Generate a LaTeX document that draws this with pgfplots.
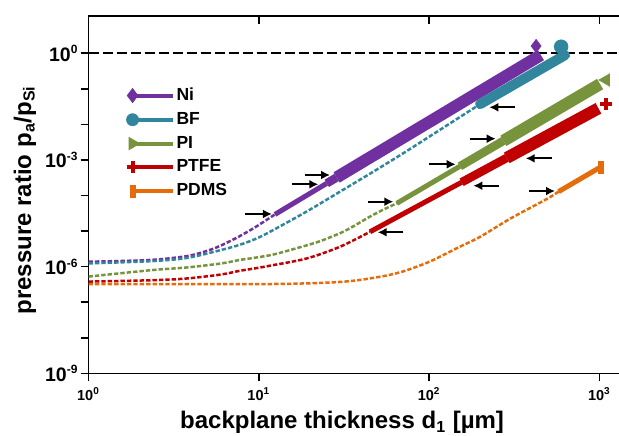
\documentclass[border=0pt]{standalone}
\usepackage{fontspec}
\setmainfont{Liberation Sans}
\usepackage{pgfplots}
\pgfplotsset{compat=1.18}
\usetikzlibrary{arrows.meta}

\definecolor{niC}{RGB}{112,48,160}
\definecolor{bfC}{RGB}{49,133,156}
\definecolor{piC}{RGB}{119,147,60}
\definecolor{ptC}{RGB}{192,0,0}
\definecolor{pdC}{RGB}{228,108,10}

% tick label helpers: big y labels, small x labels
\newcommand{\ytl}[1]{10\textsuperscript{\fontsize{6}{6}\selectfont#1}}
\newcommand{\xtl}[1]{10\textsuperscript{\fontsize{5}{5}\selectfont#1}}

\pgfplotsset{
  dsh/.style={line width=1.25pt, dash pattern=on 2.2pt off 1pt, smooth},
  arr/.style={black, line width=1pt, -{Latex[length=4.5pt,width=4.5pt]}},
  w1/.style={line width=2.5pt},
  w2/.style={line width=4.25pt},
  w3/.style={line width=6pt},
}

\begin{document}
\begin{tikzpicture}
\begin{axis}[
  name=main,
  scale only axis, width=265.25pt, height=178.65pt,
  xmode=log, ymode=log,
  xmin=1, xmax=1303, ymin=1e-9, ymax=11.19,
  major tick length=4pt, xminorticks=false, yminorticks=false,
  axis line style={line width=0.8pt, -}, tick style={line width=0.8pt, black},
  axis x line*=bottom, axis y line*=left,
  tick align=outside,
  xtick={1,10,100,1000},
  xticklabels={\xtl{0},\xtl{1},\xtl{2},\xtl{3}},
  ytick={1e-9,1e-8,1e-7,1e-6,1e-5,1e-4,1e-3,1e-2,1e-1,1},
  yticklabels={\ytl{-9},,,\ytl{-6},,,\ytl{-3},,,\ytl{0}},
  xticklabel style={font=\bfseries\fontsize{7.25}{8}\selectfont, yshift=0.5pt},
  yticklabel style={font=\bfseries\fontsize{9.75}{11}\selectfont, xshift=2.5pt},
  xlabel={backplane thickness d\textsubscript{1} [µm]},
  ylabel={pressure ratio p\textsubscript{a}/p\textsubscript{Si}},
  label style={font=\bfseries\fontsize{12}{14}\selectfont},
  xlabel style={at={(axis description cs:0.478,-0.137)}, anchor=center},
  ylabel style={at={(axis description cs:-0.12,0.485)}, anchor=center},
  legend image code/.code={
    \draw[#1, mark indices={1}] plot coordinates {(0pt,0pt) (20pt,0pt)};
  },
  legend style={at={(axis description cs:0.071,0.806)}, anchor=north west,
    draw=none, fill=none, inner sep=0pt, row sep=2.4pt,
    font=\bfseries\fontsize{8.75}{10}\selectfont,
    nodes={inner sep=1pt}},
  legend cell align=left,
]
\addlegendimage{niC, line width=2pt, mark=diamond*, mark size=3.5pt, mark options={line width=0.4pt}}
\addlegendentry{Ni}
\addlegendimage{bfC, line width=2pt, mark=*, mark size=3pt, mark options={line width=0.4pt}}
\addlegendentry{BF}
\addlegendimage{piC, line width=2pt, mark=triangle*, mark size=3.5pt, mark options={rotate=-90, line width=0.4pt}}
\addlegendentry{PI}
\addlegendimage{ptC, line width=2pt, mark=+, mark size=3pt, mark options={line width=2pt}}
\addlegendentry{PTFE}
\addlegendimage{pdC, line width=2pt, mark=square*, mark size=3pt, mark options={xscale=0.42, line width=0.4pt}}
\addlegendentry{PDMS}

% reference level p = 1
\addplot[black, line width=1pt, dash pattern=on 5pt off 2pt] coordinates {(1,1) (1303,1)};

% Ni
\addplot[niC, dsh] coordinates {(1,1.38e-6) (1.585,1.445e-6) (2.512,1.585e-6) (3.837,2.0e-6) (5.012,2.818e-6) (6.026,3.98e-6) (7.674,7.08e-6) (9.462,1.259e-5) (11.32,2.188e-5) (12.45,2.95e-5)};
\addplot[niC, w1] coordinates {(12.45,2.95e-5) (25.06,2.203e-4)};
\addplot[niC, w2] coordinates {(25.06,2.203e-4) (28.64,3.228e-4)};
\addplot[niC, w3] coordinates {(28.64,3.228e-4) (452.9,0.891)};
\addplot[niC, only marks, mark=diamond*, mark size=3.25pt] coordinates {(424.6,1.603)};

% BF
\addplot[bfC, dsh] coordinates {(1,1.23e-6) (2.449,1.445e-6) (3.837,1.778e-6) (6.026,2.951e-6) (7.674,4.074e-6) (9.462,5.888e-6) (11.32,8.913e-6) (19.10,3.548e-5) (29.99,1.288e-4) (46.99,4.677e-4) (75.51,1.905e-3) (199.1,0.03715)};
\addplot[bfC, line width=5pt, line cap=round] coordinates {(199.1,0.03715) (628.1,0.891)};
\addplot[bfC, only marks, mark=*, mark size=3.4pt] coordinates {(595.7,1.535)};

% PI
\addplot[piC, dsh] coordinates {(1,5.248e-7) (1.585,6.607e-7) (2.449,8.128e-7) (3.837,9.55e-7) (6.026,1.23e-6) (7.762,1.549e-6) (9.462,1.778e-6) (12.16,2.188e-6) (16.71,3.311e-6) (22.39,5.012e-6) (29.99,8.71e-6) (35.48,1.318e-5) (44.67,2.512e-5) (53.70,3.981e-5) (64.57,6.026e-5)};
\addplot[piC, w1] coordinates {(64.57,6.026e-5) (151.7,6.653e-4)};
\addplot[piC, w2] coordinates {(151.7,6.653e-4) (272.9,3.459e-3)};
\addplot[piC, w3] coordinates {(272.9,3.459e-3) (1009,0.1365)};
\addplot[piC, only marks, mark=triangle*, mark size=3.5pt, mark options={rotate=90}] coordinates {(1094,0.1775)};

% PTFE
\addplot[ptC, dsh] coordinates {(1,3.802e-7) (2.455,4.169e-7) (3.837,4.677e-7) (6.026,6.026e-7) (7.674,7.586e-7) (9.462,8.913e-7) (11.75,1.072e-6) (19.10,1.698e-6) (29.99,3.631e-6) (44.98,9.55e-6)};
\addplot[ptC, w1] coordinates {(44.98,9.55e-6) (155.2,2.36e-4)};
\addplot[ptC, w2] coordinates {(155.2,2.36e-4) (285.8,1.148e-3)};
\addplot[ptC, w3] coordinates {(285.8,1.148e-3) (986.3,0.02838)};
\addplot[ptC, only marks, mark=+, mark size=3pt, mark options={line width=2pt}] coordinates {(1094,0.0375)};

% PDMS
\addplot[pdC, dsh] coordinates {(1,3.236e-7) (10,3.236e-7) (19.10,3.388e-7) (29.99,3.715e-7) (39.81,4.266e-7) (56.23,5.623e-7) (70.79,7.413e-7) (89.13,1.096e-6) (107.2,1.585e-6) (151.4,3.631e-6) (199.5,6.918e-6) (302.0,2.291e-5) (489.8,7.943e-5) (575.4,1.288e-4)};
\addplot[pdC, line width=2.5pt] coordinates {(575.4,1.288e-4) (1023,6.457e-4)};
\addplot[pdC, only marks, mark=square*, mark size=3pt, mark options={xscale=0.42}] coordinates {(1014,6.15e-4)};

% arrows marking the width steps
\addplot[arr] coordinates {(8.30,3.03e-5) (11.94,3.03e-5)};
\addplot[arr] coordinates {(15.73,2.07e-4) (22.36,2.07e-4)};
\addplot[arr] coordinates {(18.67,3.78e-4) (26.18,3.78e-4)};
\addplot[arr] coordinates {(319.4,0.0303) (225.6,0.0303)};
\addplot[arr] coordinates {(43.6,6.71e-5) (61.6,6.71e-5)};
\addplot[arr] coordinates {(100.2,7.56e-4) (143.3,7.56e-4)};
\addplot[arr] coordinates {(173.8,3.97e-3) (246.0,3.97e-3)};
\addplot[arr] coordinates {(70.6,9.25e-6) (49.9,9.25e-6)};
\addplot[arr] coordinates {(257.2,1.89e-4) (181.8,1.89e-4)};
\addplot[arr] coordinates {(524.8,1.11e-3) (369.1,1.11e-3)};
\addplot[arr] coordinates {(386.2,1.34e-4) (548.4,1.34e-4)};
\end{axis}

% top frame line with inward ticks
\begin{axis}[
  scale only axis, width=265.25pt, height=178.65pt,
  xmode=log, ymode=log,
  xmin=1, xmax=1303, ymin=1e-9, ymax=11.19,
  major tick length=4pt, xminorticks=false, yminorticks=false,
  axis line style={line width=0.8pt, -}, tick style={line width=0.8pt, black},
  axis x line*=top, axis y line=none,
  tick align=inside,
  xtick={1,10,100,1000}, xticklabels={},
]
\addplot[draw=none] coordinates {(1,1e-9)};
\end{axis}

\pgfresetboundingbox
\path[use as bounding box] ([shift={(-44.25pt,-30.85pt)}]main.south west) rectangle ([shift={(265.25pt,186.65pt)}]main.south west);
\end{tikzpicture}
\end{document}
